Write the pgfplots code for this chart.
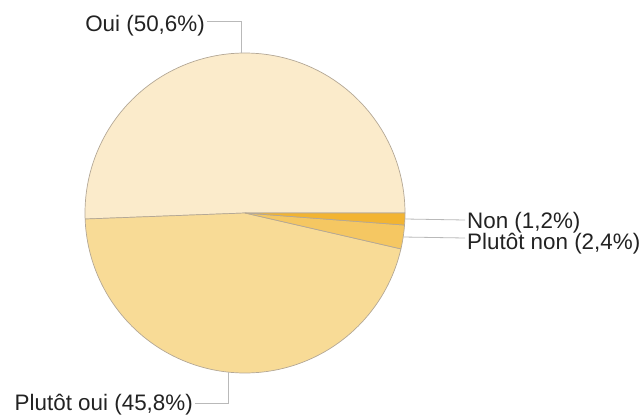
\documentclass[border=0pt]{standalone}
\usepackage{pgfplots}
\pgfplotsset{compat=1.18}
\usepackage{fontspec}
\setmainfont{Liberation Sans}
\definecolor{cOui}{RGB}{251,235,203}
\definecolor{cPOui}{RGB}{248,219,150}
\definecolor{cPNon}{RGB}{245,199,98}
\definecolor{cNon}{RGB}{242,180,50}
\definecolor{edge}{RGB}{180,168,150}
\definecolor{lead}{RGB}{185,185,185}
\definecolor{txt}{RGB}{34,34,34}
% shares (percent)
\def\vOui{50.6}
\def\vPOui{45.8}
\def\vPNon{2.4}
\def\vNon{1.2}
\tikzset{lbl/.style={font=\fontsize{22.4}{26}\selectfont, text=txt, inner sep=0pt}}
\begin{document}
\begin{tikzpicture}
\pgfmathsetmacro{\aA}{0}
\pgfmathsetmacro{\aB}{\aA+3.6*\vOui}
\pgfmathsetmacro{\aC}{\aB+3.6*\vPOui}
\pgfmathsetmacro{\aD}{\aC+3.6*\vPNon}
\pgfmathsetmacro{\aE}{\aD+3.6*\vNon}
\begin{axis}[
  width=643pt, height=418pt, scale only axis,
  xmin=0, xmax=643, ymin=0, ymax=418, y dir=reverse,
  hide axis, clip=false,
]
\path (rel axis cs:0,0) rectangle (rel axis cs:1,1);
\addplot[fill=cOui, draw=edge, line width=0.7pt, domain=\aA:\aB, samples=120, variable=\t]
  ({245+160*cos(\t)},{213-160*sin(\t)}) -- (axis cs:245,213) -- cycle;
\addplot[fill=cPOui, draw=edge, line width=0.7pt, domain=\aB:\aC, samples=120, variable=\t]
  ({245+160*cos(\t)},{213-160*sin(\t)}) -- (axis cs:245,213) -- cycle;
\addplot[fill=cPNon, draw=edge, line width=0.7pt, domain=\aC:\aD, samples=10, variable=\t]
  ({245+160*cos(\t)},{213-160*sin(\t)}) -- (axis cs:245,213) -- cycle;
\addplot[fill=cNon, draw=edge, line width=0.7pt, domain=\aD:\aE, samples=10, variable=\t]
  ({245+160*cos(\t)},{213-160*sin(\t)}) -- (axis cs:245,213) -- cycle;
% leader lines
\addplot[lead, line width=0.8pt] coordinates {(207,21) (241,21) (241,53)};
\addplot[lead, line width=0.8pt] coordinates {(195,403) (228,403) (228,372)};
\addplot[lead, line width=0.8pt] coordinates {(405,219) (465,220)};
\addplot[lead, line width=0.8pt] coordinates {(403,237) (465,238)};
% labels
\node[lbl, anchor=base east] at (axis cs:205,31) {Oui (50,6\%)};
\node[lbl, anchor=base west] at (axis cs:467,228) {Non (1,2\%)};
\node[lbl, anchor=base west] at (axis cs:467,249) {Plutôt non (2,4\%)};
\node[lbl, anchor=base east] at (axis cs:193,410) {Plutôt oui (45,8\%)};
\end{axis}
\end{tikzpicture}
\end{document}
